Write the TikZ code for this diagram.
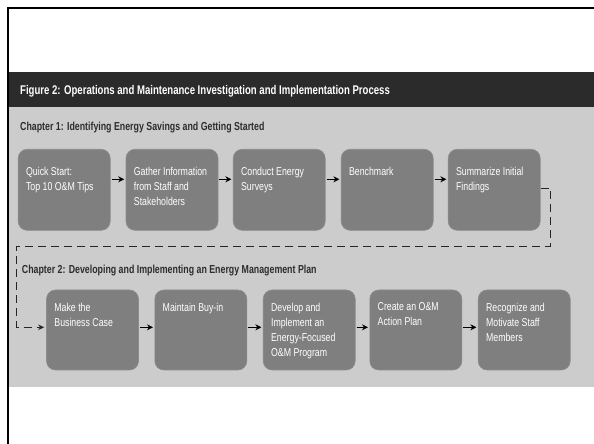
\documentclass[tikz,border=0pt]{standalone}
\usepackage{fontspec}
\setmainfont{Liberation Sans}
\newfontfamily\condreg[FakeStretch=0.77]{Liberation Sans}
\newfontfamily\condbold[FakeStretch=0.76]{Liberation Sans}
\usetikzlibrary{arrows.meta}
\definecolor{bandcol}{RGB}{43,43,43}
\definecolor{bgcol}{RGB}{204,204,204}
\definecolor{boxcol}{RGB}{127,127,127}
\definecolor{boxline}{RGB}{140,140,140}
\definecolor{headcol}{RGB}{45,45,45}
\tikzset{
  stepbox/.style={draw=boxline, line width=0.6pt, fill=boxcol, rounded corners=9pt,
    minimum width=92pt, inner sep=0pt},
  rowone/.style={stepbox, minimum height=81pt},
  rowtwo/.style={stepbox, minimum height=80pt},
  boxtext/.style={text=white, align=left, inner sep=0pt,
    font={\condreg\fontsize{11.4}{15}\selectfont}},
  flow/.style={line width=1.4pt, -{Stealth[length=6pt,width=6pt]}, shorten <=1pt, shorten >=1.5pt},
  dashline/.style={line width=0.9pt, draw=black!85, dash pattern=on 8pt off 5pt,
    -{Stealth[length=6pt,width=5.5pt]}, shorten >=2pt},
  headtext/.style={anchor=base west, inner sep=0pt, text=headcol,
    font={\condbold\bfseries\fontsize{11.6}{13}\selectfont}},
}
\begin{document}
\begin{tikzpicture}[x=1pt,y=1pt]
\useasboundingbox (0,0) rectangle (594,444);
\fill[white] (0,0) rectangle (594,444);
% band and background
\fill[bgcol] (8.8,56.7) rectangle (594,337.3);
\fill[bandcol] (8.8,337.3) rectangle (594,372.3);
\draw[line width=2pt, black] (7.8,0) -- (7.8,436.2) -- (594,436.2);
\node[anchor=base west, inner sep=0pt, text=white,
  font={\condbold\bfseries\fontsize{12.6}{14}\selectfont}] (title) at (20,349.7)
  {Figure 2: Operations and Maintenance Investigation and Implementation Process};
\node[headtext] (ch1) at (20,313.3) {Chapter 1: Identifying Energy Savings and Getting Started};
\node[headtext] (ch2) at (21.7,170.7) {Chapter 2: Developing and Implementing an Energy Management Plan};
% row 1
\foreach \n/\x/\t in {qs/64.2/{Quick Start:\\Top 10 O\&M Tips},
                      gi/172/{Gather Information\\from Staff and\\Stakeholders},
                      ce/279.2/{Conduct Energy\\Surveys},
                      bm/387.2/{Benchmark},
                      sf/494.2/{Summarize Initial\\Findings}}{
  \node[rowone, label={[boxtext, anchor=north west, xshift=8pt, yshift=-18pt]north west:\t}] (\n) at (\x,254.2) {};
}
% row 2
\foreach \n/\x/\t in {mb/92.5/{Make the\\Business Case},
                      mi/200.8/{Maintain Buy-in},
                      de/309.2/{Develop and\\Implement an\\Energy-Focused\\O\&M Program},
                      ca/415.8/{Create an O\&M\\Action Plan},
                      rm/524.2/{Recognize and\\Motivate Staff\\Members}}{
  \node[rowtwo, label={[boxtext, anchor=north west, xshift=8pt, yshift=-13pt]north west:\t}] (\n) at (\x,114) {};
}
% arrows row 1
\foreach \a/\b in {qs/gi, gi/ce, ce/bm, bm/sf}{
  \draw[flow] ([yshift=10.5pt]\a.east) -- ([yshift=10.5pt]\b.west);
}
% arrows row 2
\foreach \a/\b in {mb/mi, mi/de, de/ca, ca/rm}{
  \draw[flow] ([yshift=2.7pt]\a.east) -- ([yshift=2.7pt]\b.west);
}
% dashed connector
\coordinate (d1) at (550,197.3);
\coordinate (d2) at (16.7,197.3);
\draw[dashline] ([yshift=1.8pt]sf.east) -| (d1) -- (d2) |- ([yshift=2.7pt]mb.west);
\end{tikzpicture}
\end{document}
